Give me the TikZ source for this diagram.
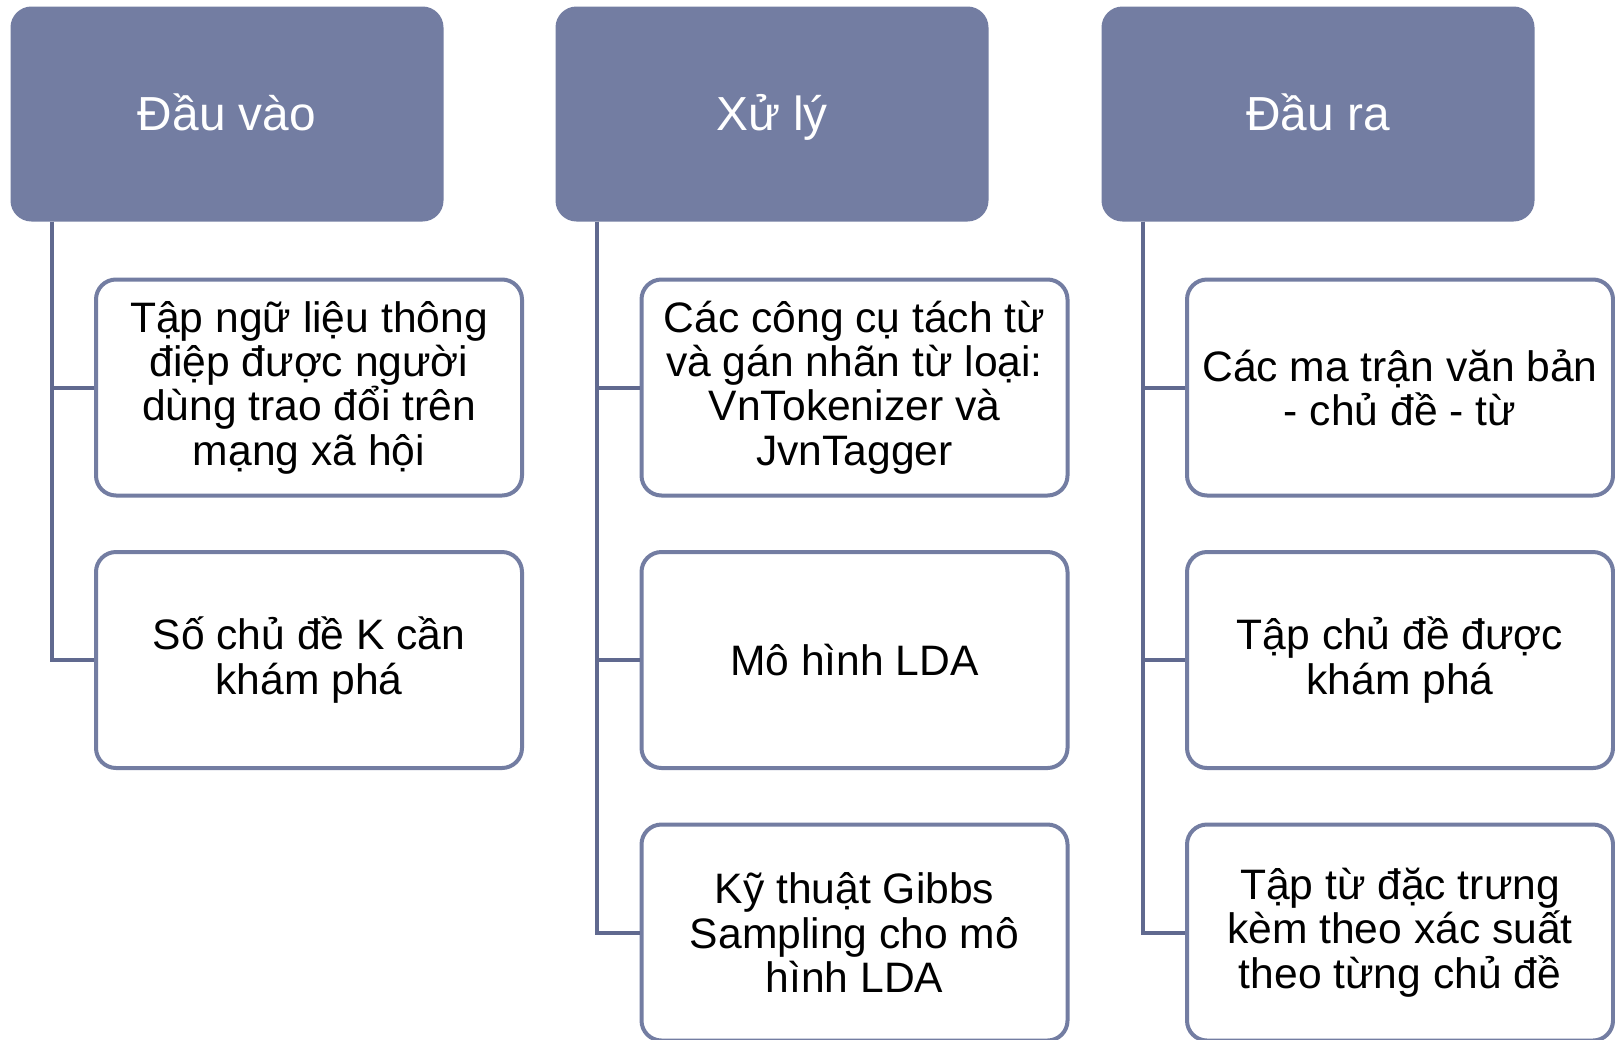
\documentclass[tikz,border=0pt]{standalone}
\usepackage{fontspec}
\setmainfont{Liberation Sans}
\definecolor{slate}{RGB}{115,125,162}
\definecolor{slatedark}{RGB}{96,105,143}
\begin{document}
\begin{tikzpicture}[x=0.5pt,y=-0.5pt,
  head/.style={draw=slate,fill=slate,line width=1pt,rounded corners=10pt,
    minimum width=215.5pt,minimum height=106.5pt,text=white,
    text height=16.8pt,text depth=0pt,
    font=\fontsize{23.9pt}{26pt}\selectfont,inner sep=0pt},
  leaf/.style={draw=slate,fill=white,line width=2pt,rounded corners=10pt,
    minimum width=213pt,minimum height=108pt,align=center,text=black,
    font=\fontsize{21.3pt}{22.15pt}\selectfont,inner sep=0pt},
  link/.style={draw=slatedark,line width=2pt}]
\useasboundingbox (0,0) rectangle (1615,1039);
\fill[white] (0,0) rectangle (1615,1039);

% column headers
\node[head] (h1) at (227,114) {Đầu vào};
\node[head] (h2) at (772,114) {Xử lý};
\node[head] (h3) at (1318,114) {Đầu ra};

% first column
\node[leaf] (c11) at (309,387.5) {Tập ngữ liệu thông\\điệp được người\\dùng trao đổi trên\\mạng xã hội};
\node[leaf] (c12) at (309,660) {Số chủ đề K cần\\khám phá};

% second column
\node[leaf] (c21) at (854.5,387.5) {Các công cụ tách từ\\và gán nhãn từ loại:\\VnTokenizer và\\JvnTagger};
\node[leaf] (c22) at (854.5,660) {Mô hình LDA};
\node[leaf] (c23) at (854.5,932.5) {Kỹ thuật Gibbs\\Sampling cho mô\\hình LDA};

% third column
\node[leaf] (c31) at (1400,387.5) {Các ma trận văn bản\\- chủ đề - từ};
\node[leaf] (c32) at (1400,660) {Tập chủ đề được\\khám phá};
\node[leaf] (c33) at (1400,932.5) {Tập từ đặc trưng\\kèm theo xác suất\\theo từng chủ đề};

% branch lines
\coordinate (t1) at ([xshift=20.6pt]h1.south west);
\coordinate (t2) at ([xshift=20.6pt]h2.south west);
\coordinate (t3) at ([xshift=20.6pt]h3.south west);
\draw[link] (t1) |- (c11.west);
\draw[link] (t1) |- (c12.west);
\draw[link] (t2) |- (c21.west);
\draw[link] (t2) |- (c22.west);
\draw[link] (t2) |- (c23.west);
\draw[link] (t3) |- (c31.west);
\draw[link] (t3) |- (c32.west);
\draw[link] (t3) |- (c33.west);
\end{tikzpicture}
\end{document}
